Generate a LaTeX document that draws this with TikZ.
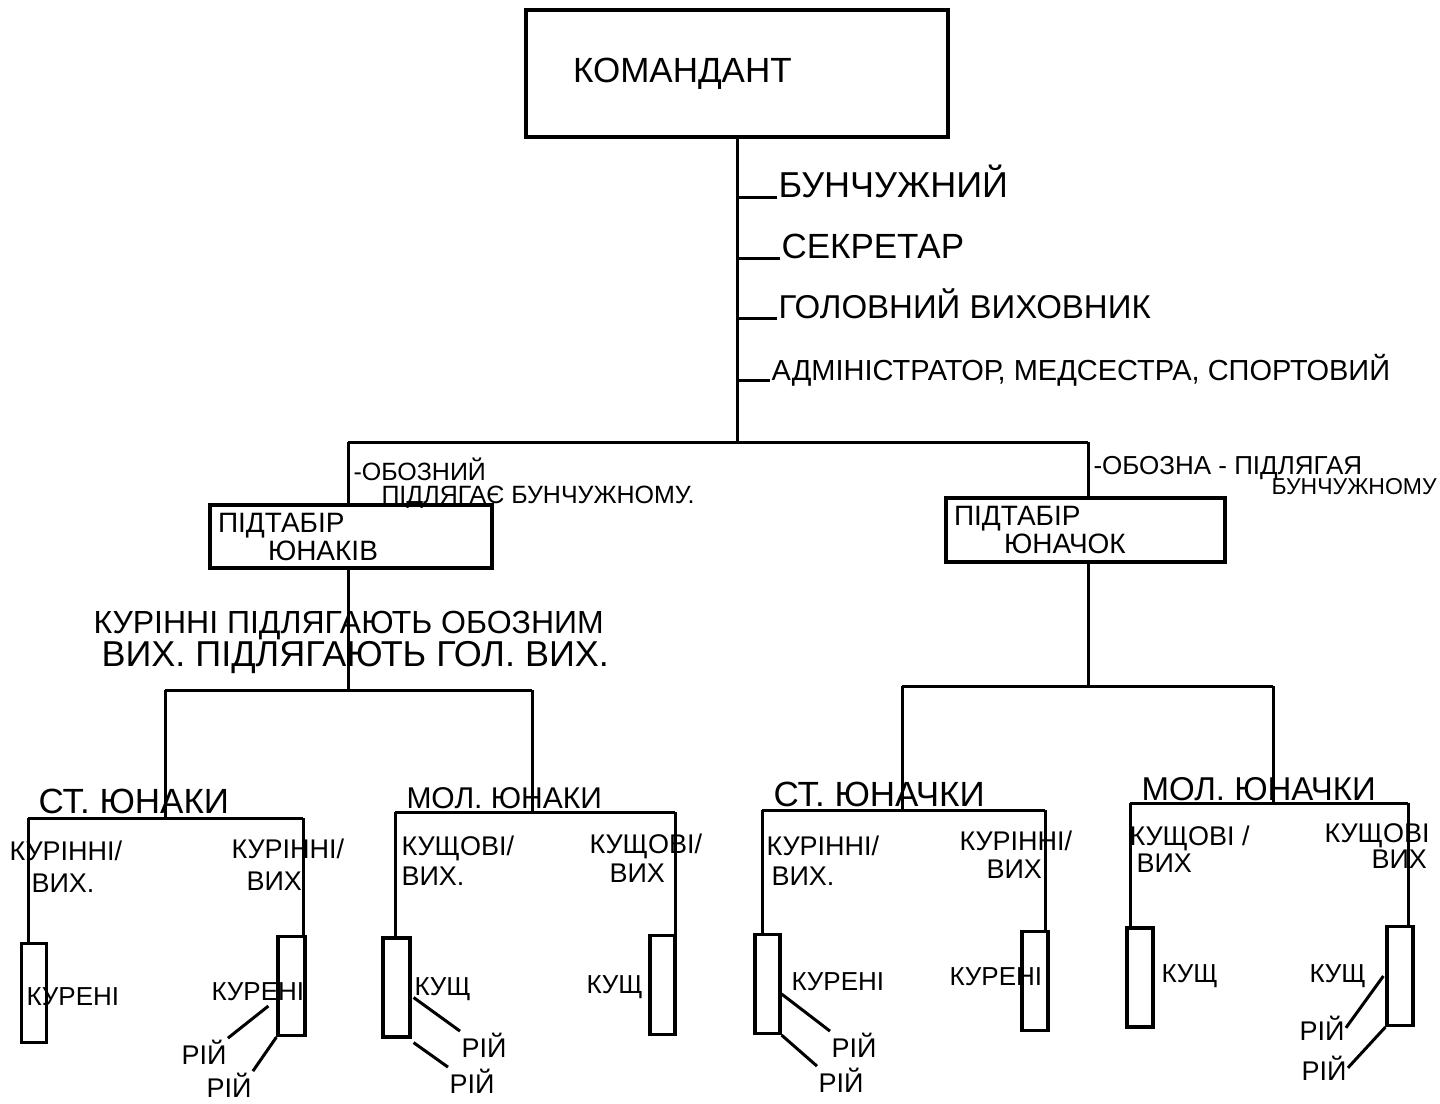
\documentclass[tikz,border=0pt]{standalone}
\usepackage{fontspec}
\setmainfont{Liberation Sans}
\usetikzlibrary{calc}
\newcommand\myfs[1]{\fontsize{#1}{#1}\selectfont}
\begin{document}
\begin{tikzpicture}[x=1pt,y=-1pt, line width=3pt,
  lbl/.style={anchor=base west, inner sep=0pt, font=\myfs{26}},
  box/.style={draw, line width=3.2pt, rectangle, inner sep=0pt},
  tall/.style={box, minimum width=25pt, minimum height=99pt}]
\fill[white] (0,0) rectangle (1440,1103);
\useasboundingbox (0,0) rectangle (1440,1103);

% ---------- top ----------
\node[box, minimum width=422, minimum height=127, text width=328, inner xsep=47,
      align=left, font=\myfs{35}] (kom) at (737,73.5) {КОМАНДАНТ};
\coordinate (sj) at (737,442);
\draw (kom.south) -- (sj);

\node[lbl, font=\myfs{36}] (st1) at (777,197) {БУНЧУЖНИЙ};
\node[lbl, font=\myfs{35}] (st2) at (780,258) {СЕКРЕТАР};
\node[lbl, font=\myfs{33}] (st3) at (777,318) {ГОЛОВНИЙ ВИХОВНИК};
\node[lbl, font=\myfs{29}] (st4) at (770,380) {АДМІНІСТРАТОР, МЕДСЕСТРА, СПОРТОВИЙ};
\foreach \s in {st1,st2,st3,st4}{\draw (\s.base west -| kom.south) -- (\s.base west);}

% ---------- sub camps ----------
\coordinate (jl) at (348,442);
\coordinate (jr) at (1088,442);
\draw (jl) -- (jr);

\node[box, minimum width=282, minimum height=63, text width=266, inner xsep=8,
      align=left, font=\myfs{28}] (yun) at (351,536.5) {ПІДТАБІР\\\hspace*{50pt}ЮНАКІВ};
\node[box, minimum width=279, minimum height=64, text width=263, inner xsep=8,
      align=left, font=\myfs{28}] (yuc) at (1085.5,530) {ПІДТАБІР\\\hspace*{50pt}ЮНАЧОК};
\draw (jl) -- (jl |- yun.north);
\draw (jr) -- (jr |- yuc.north);

\node[lbl, font=\myfs{25}] (ob1) at (352,480) {-ОБОЗНИЙ};
\node[lbl, font=\myfs{25}] (ob2) at (380,503) {ПІДЛЯГАЄ БУНЧУЖНОМУ.};
\node[lbl, font=\myfs{26}] (ob3) at (1092,474) {-ОБОЗНА - ПІДЛЯГАЯ};
\node[lbl, font=\myfs{23}] (ob4) at (1270,494) {БУНЧУЖНОМУ};

% ---------- level 3 ----------
\coordinate (l0) at (348,690);
\coordinate (lL) at (165,690);
\coordinate (lR) at (532,690);
\draw (jl |- yun.south) -- (l0);
\draw (lL) -- (lR);
\node[lbl, font=\myfs{32}] (n1) at (92,633) {КУРІННІ ПІДЛЯГАЮТЬ ОБОЗНИМ};
\node[lbl, font=\myfs{36}] (n2) at (100,666) {ВИХ. ПІДЛЯГАЮТЬ ГОЛ. ВИХ.};

\coordinate (r0) at (1088,686);
\coordinate (rL) at (902,686);
\coordinate (rR) at (1273,686);
\draw (jr |- yuc.south) -- (r0);
\draw (rL) -- (rR);

% ---------- group 1 ----------
\coordinate (g1L) at (28,818);
\coordinate (g1R) at (303,818);
\node[lbl, font=\myfs{35}] (h1) at (37,813) {СТ. ЮНАКИ};
\draw (lL) -- (lL |- g1L);
\draw (g1L) -- (g1R);
\node[tall] (g1a) at (34,993) {};
\node[tall, minimum width=27pt] (g1b) at (291.5,986) {};
\draw (g1L) -- (g1L |- g1a.north);
\draw (g1R) -- (g1R |- g1b.north);
\node[lbl, font=\myfs{27}] (t1a) at (8,860) {КУРІННІ/};
\node[lbl, font=\myfs{27}] (t1b) at (30,892) {ВИХ.};
\node[lbl, font=\myfs{27}] (t1c) at (230,858) {КУРІННІ/};
\node[lbl, font=\myfs{27}] (t1d) at (245,890) {ВИХ};
\node[lbl] (k1a) at (25,1005) {КУРЕНІ};
\node[lbl] (k1b) at (210,1000) {КУРЕНІ};
\node[lbl, font=\myfs{27}] (r1a) at (180,1064) {РІЙ};
\node[lbl, font=\myfs{27}] (r1b) at (205,1097) {РІЙ};
\draw ($(g1b.west)+(-8,20)$) -- (r1a.north east);
\draw (g1b.south west) -- (r1b.north east);

% ---------- group 2 ----------
\coordinate (g2L) at (395,812);
\coordinate (g2R) at (675,812);
\node[lbl, font=\myfs{30}] (h2) at (405,808) {МОЛ. ЮНАКИ};
\draw (lR) -- (lR |- g2L);
\draw (g2L) -- (g2R);
\node[tall, minimum width=27pt] (g2a) at (396.5,987.5) {};
\node[tall] (g2b) at (662.5,985) {};
\draw (g2L) -- (g2L |- g2a.north);
\draw (g2R) -- (g2R |- g2b.north);
\node[lbl, font=\myfs{27}] (t2a) at (400,855) {КУЩОВІ/};
\node[lbl, font=\myfs{27}] (t2b) at (400,885) {ВИХ.};
\node[lbl, font=\myfs{27}] (t2c) at (588,853) {КУЩОВІ/};
\node[lbl, font=\myfs{27}] (t2d) at (608,882) {ВИХ};
\node[lbl] (k2a) at (413,995) {КУЩ};
\node[lbl] (k2b) at (585,993) {КУЩ};
\node[lbl, font=\myfs{27}] (r2a) at (460,1057) {РІЙ};
\node[lbl, font=\myfs{27}] (r2b) at (448,1093) {РІЙ};
\draw ($(g2a.east)+(2,10)$) -- (r2a.north west);
\draw ($(g2a.south east)+(2,4)$) -- (r2b.north west);

% ---------- group 3 ----------
\coordinate (g3L) at (762,810);
\coordinate (g3R) at (1045,810);
\node[lbl, font=\myfs{35}] (h3) at (772,806) {СТ. ЮНАЧКИ};
\draw (rL) -- (rL |- g3L);
\draw (g3L) -- (g3R);
\node[tall] (g3a) at (767.5,984) {};
\node[tall, minimum width=26pt] (g3b) at (1035,981) {};
\draw (g3L) -- (g3L |- g3a.north);
\draw (g3R) -- (g3R |- g3b.north);
\node[lbl, font=\myfs{27}] (t3a) at (765,855) {КУРІННІ/};
\node[lbl, font=\myfs{27}] (t3b) at (770,885) {ВИХ.};
\node[lbl, font=\myfs{27}] (t3c) at (958,850) {КУРІННІ/};
\node[lbl, font=\myfs{27}] (t3d) at (985,878) {ВИХ.};
\node[lbl] (k3a) at (790,990) {КУРЕНІ};
\node[lbl] (k3b) at (948,985) {КУРЕНІ};
\node[lbl, font=\myfs{27}] (r3a) at (830,1057) {РІЙ};
\node[lbl, font=\myfs{27}] (r3b) at (817,1092) {РІЙ};
\draw ($(g3a.east)+(0,10)$) -- (r3a.north west);
\draw (g3a.south east) -- (r3b.north west);

% ---------- group 4 ----------
\coordinate (g4L) at (1130,803);
\coordinate (g4R) at (1408,803);
\node[lbl, font=\myfs{33}] (h4) at (1140,800) {МОЛ. ЮНАЧКИ};
\draw (rR) -- (rR |- g4L);
\draw (g4L) -- (g4R);
\node[tall, minimum width=26pt] (g4a) at (1140,977.5) {};
\node[tall, minimum width=26pt] (g4b) at (1400,976) {};
\draw (g4L) -- (g4L |- g4a.north);
\draw (g4R) -- (g4R |- g4b.north);
\node[lbl, font=\myfs{27}] (t4a) at (1128,845) {КУЩОВІ /};
\node[lbl, font=\myfs{27}] (t4b) at (1135,872) {ВИХ};
\node[lbl, font=\myfs{27}] (t4c) at (1323,842) {КУЩОВІ};
\node[lbl, font=\myfs{27}] (t4d) at (1370,868) {ВИХ};
\node[lbl] (k4a) at (1160,982) {КУЩ};
\node[lbl] (k4b) at (1308,982) {КУЩ};
\node[lbl, font=\myfs{27}] (r4a) at (1298,1040) {РІЙ};
\node[lbl, font=\myfs{27}] (r4b) at (1300,1080) {РІЙ};
\draw ($(g4b.west)+(-2,0)$) -- (r4a.east);
\draw (g4b.south west) -- (r4b.east);
\end{tikzpicture}
\end{document}
